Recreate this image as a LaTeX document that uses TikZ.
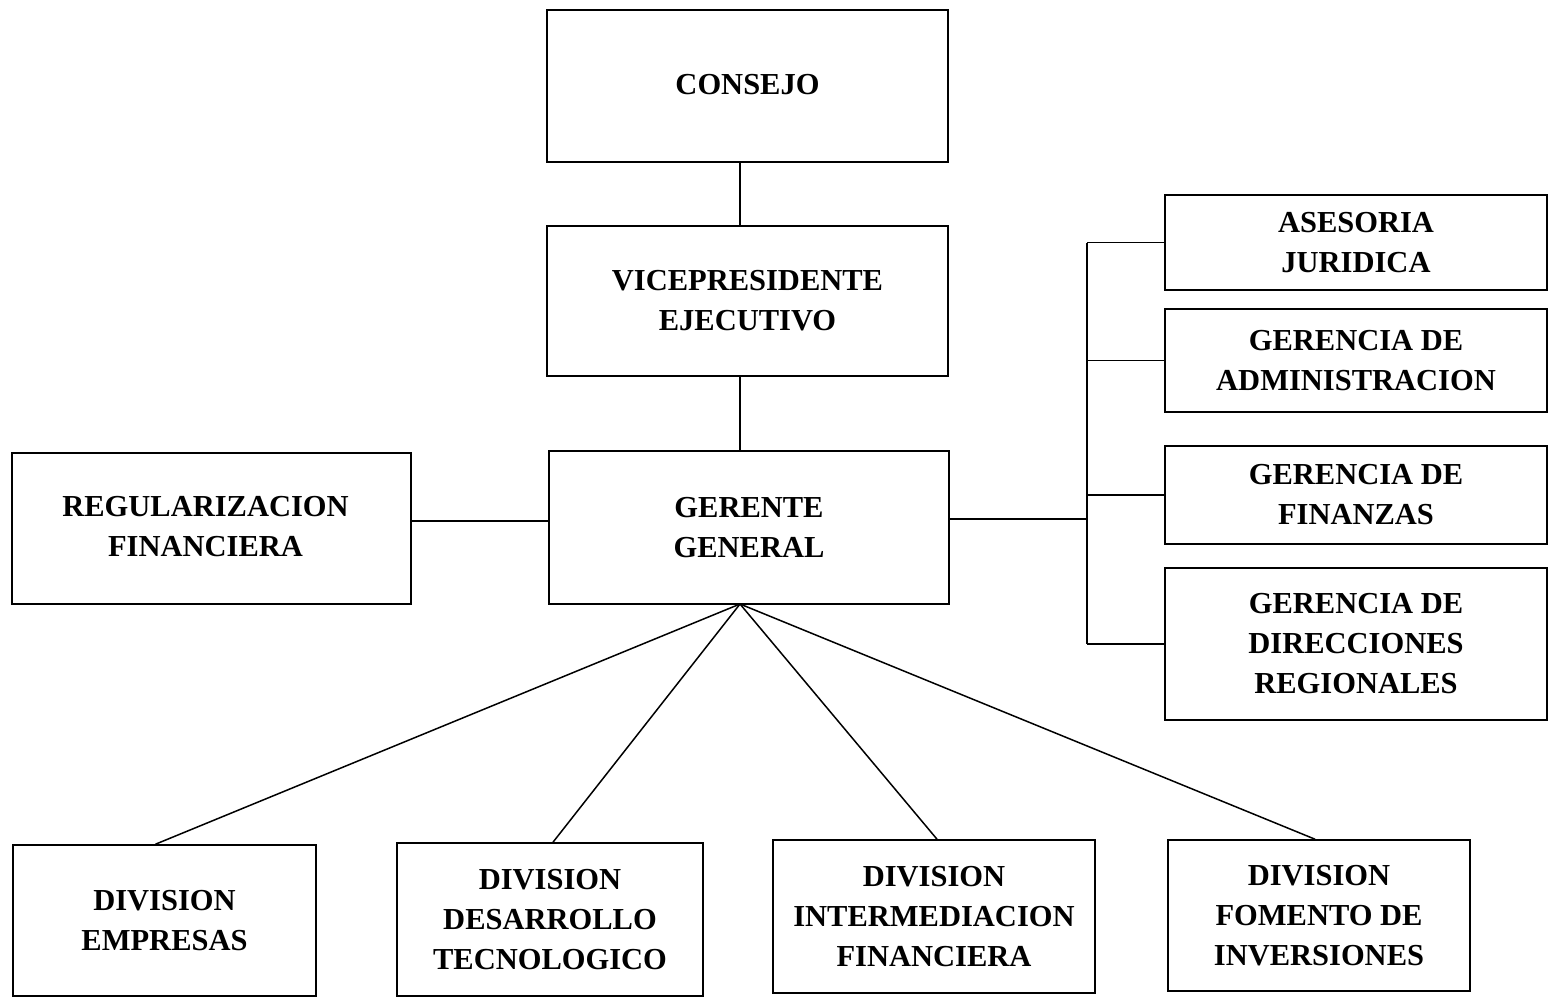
\documentclass[tikz,border=0pt]{standalone}
\usepackage{fontspec}
\setmainfont{Liberation Serif}
\begin{document}
\begin{tikzpicture}[x=1pt,y=-1pt,
  box/.style={draw,line width=1.6pt,align=center,inner sep=0pt,
    font=\bfseries\fontsize{30.5}{40}\selectfont},
  link/.style={line width=1.5pt}]
\useasboundingbox (0,0) rectangle (1548,1001);
\node[box,minimum width=401,minimum height=152] (consejo) at (747.5,86) {\raisebox{3pt}{CONSEJO}};
\node[box,minimum width=401,minimum height=150] (vice) at (747.5,301) {VICEPRESIDENTE\\EJECUTIVO};
\node[box,minimum width=400,minimum height=153] (gg) at (749,527.5) {GERENTE\\GENERAL};
\node[box,minimum width=399,minimum height=151] (reg) at (211.5,528.5) {\raisebox{10pt}{\begin{tabular}{@{}c@{}}REGULARIZACION\\FINANCIERA\end{tabular}}\hspace*{12pt}};
\node[box,minimum width=382,minimum height=95] (ase) at (1356,242.5) {ASESORIA\\JURIDICA};
\node[box,minimum width=382,minimum height=103] (adm) at (1356,360.5) {GERENCIA DE\\ADMINISTRACION};
\node[box,minimum width=382,minimum height=98] (fin) at (1356,495) {GERENCIA DE\\FINANZAS};
\node[box,minimum width=382,minimum height=152] (dir) at (1356,644) {GERENCIA DE\\DIRECCIONES\\REGIONALES};
\node[box,minimum width=303,minimum height=151] (emp) at (164.5,920.5) {DIVISION\\EMPRESAS};
\node[box,minimum width=306,minimum height=153] (des) at (550,919.5) {DIVISION\\DESARROLLO\\TECNOLOGICO};
\node[box,minimum width=322,minimum height=153] (int) at (934,916.5) {DIVISION\\INTERMEDIACION\\FINANCIERA};
\node[box,minimum width=302,minimum height=151] (fom) at (1319,915.5) {DIVISION\\FOMENTO DE\\INVERSIONES};
\coordinate (ggb) at (740,604);
\coordinate (bus) at (1087,519);
\coordinate (regl) at (480,521);
\draw[link] (consejo.south -| ggb) -- (vice.north -| ggb);
\draw[link] (vice.south -| ggb) -- (gg.north -| ggb);
\draw[link] (reg.east |- regl) -- (gg.west |- regl);
\draw[link] (gg.east |- bus) -- (bus);
\draw[link] (ase.west -| bus) -- (dir.west -| bus);
\draw[link] (ase.west -| bus) -- (ase.west);
\draw[link] (adm.west -| bus) -- (adm.west);
\draw[link] (fin.west -| bus) -- (fin.west);
\draw[link] (dir.west -| bus) -- (dir.west);
\draw[link] (ggb) -- ([xshift=-9pt]emp.north);
\draw[link] (ggb) -- ([xshift=3pt]des.north);
\draw[link] (ggb) -- ([xshift=3pt]int.north);
\draw[link] (ggb) -- ([xshift=-4pt]fom.north);
\end{tikzpicture}
\end{document}
